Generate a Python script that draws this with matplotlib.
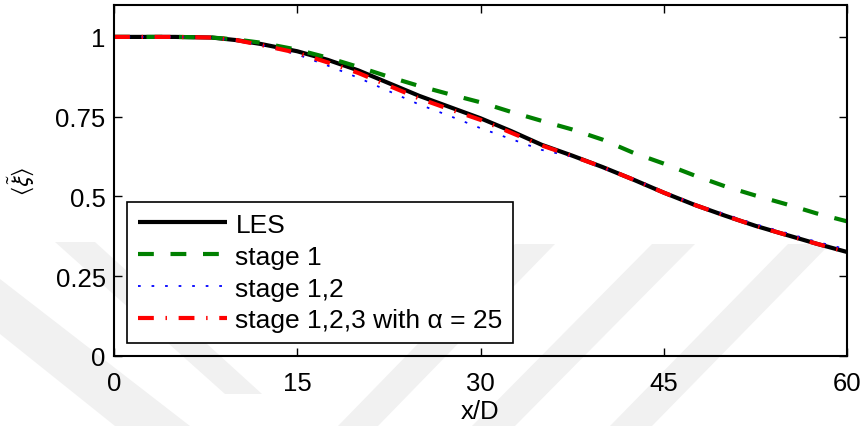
import numpy as np
import matplotlib
matplotlib.use("Agg")
import matplotlib.pyplot as plt
from matplotlib.patches import Polygon

plt.rcParams['font.family'] = ['Liberation Sans', 'DejaVu Sans']
plt.rcParams['mathtext.fontset'] = 'stixsans'

# data
x = [0, 5, 8, 10, 12, 15, 17.5, 20, 22.5, 25, 27.5, 30, 32.5, 35, 37.5,
     40, 42.5, 45, 47.5, 50, 52.5, 55, 57.5, 60]
les = [1.0, 1.0, 0.998, 0.99, 0.978, 0.955, 0.928, 0.895, 0.855, 0.815, 0.78,
       0.745, 0.705, 0.662, 0.628, 0.592, 0.553, 0.512, 0.474, 0.44, 0.408,
       0.38, 0.352, 0.326]
stage1 = [1.0, 1.0, 0.998, 0.992, 0.982, 0.96, 0.935, 0.906, 0.875, 0.846,
          0.82, 0.795, 0.765, 0.737, 0.71, 0.678, 0.637, 0.603, 0.566,
          0.532, 0.503, 0.476, 0.447, 0.422]
stage12 = [1.0, 1.0, 0.997, 0.988, 0.975, 0.945, 0.91, 0.872, 0.83, 0.788,
           0.752, 0.714, 0.68, 0.646, 0.625, 0.59, 0.555, 0.514, 0.476, 0.445,
           0.413, 0.386, 0.358, 0.334]
stage123 = [1.0, 1.0, 0.998, 0.99, 0.975, 0.95, 0.92, 0.887, 0.847, 0.807,
            0.773, 0.74, 0.70, 0.66, 0.627, 0.592, 0.553, 0.512, 0.474,
            0.44, 0.408, 0.38, 0.352, 0.326]
labels = ['LES', 'stage 1', 'stage 1,2', 'stage 1,2,3 with α = 25']
xticks = [0, 15, 30, 45, 60]
yticks = [0, 0.25, 0.5, 0.75, 1]
yticklabels = ['0', '0.25', '0.5', '0.75', '1']

W, H = 864, 427
fig = plt.figure(figsize=(W / 100, H / 100), dpi=100)

# faint watermark bands (pixel coords, y down)
bands = [
    [(55, 243), (95, 243), (262, 395), (225, 395)],
    [(0, 280), (0, 335), (115, 427), (190, 427)],
    [(515, 245), (555, 245), (378, 427), (338, 427)],
    [(652, 245), (695, 245), (515, 427), (472, 427)],
    [(788, 245), (830, 245), (652, 427), (610, 427)],
]
for b in bands:
    pts = [(px / W, 1 - py / H) for px, py in b]
    fig.patches.append(Polygon(pts, closed=True, transform=fig.transFigure,
                               facecolor='#f1f1f1', edgecolor='none', zorder=-5))

ax = fig.add_axes([114 / W, 1 - 357 / H, 733 / W, 351 / H])
ax.set_facecolor('none')

ax.plot(x, les, color='black', lw=3, solid_capstyle='butt', label=labels[0])
ax.plot(x, stage1, color='#008000', lw=3, dashes=(3.8, 4.0),
        dash_capstyle='butt', label=labels[1])
ax.plot(x, stage12, color='blue', lw=1.3, dashes=(1.5, 6.0),
        dash_capstyle='butt', label=labels[2])
ax.plot(x, stage123, color='red', lw=3, dashes=(3.8, 2.8, 0.35, 2.8),
        dash_capstyle='butt', label=labels[3])

ax.set_xlim(0, 60)
ax.set_ylim(0, 1.1)
ax.set_xticks(xticks)
ax.set_yticks(yticks)
ax.set_yticklabels(yticklabels)
ax.tick_params(direction='in', length=6, width=1, labelsize=18.5,
               top=True, right=True)
ax.tick_params(axis='x', pad=11)
ax.tick_params(axis='y', pad=6)
for s in ax.spines.values():
    s.set_linewidth(1.5)

ax.set_xlabel('x/D', fontsize=18.5, labelpad=3)
ax.set_ylabel(r'$\langle\tilde{\xi}\rangle$', fontsize=17, labelpad=14)

leg = ax.legend(loc='lower left', bbox_to_anchor=(0.018, 0.037),
                borderaxespad=0, fontsize=19, handlelength=3.4,
                handletextpad=0.3, labelspacing=0.3, borderpad=0.4,
                fancybox=False, framealpha=1, edgecolor='black')
leg.get_frame().set_linewidth(1.2)

fig.savefig('out.png', dpi=100)
